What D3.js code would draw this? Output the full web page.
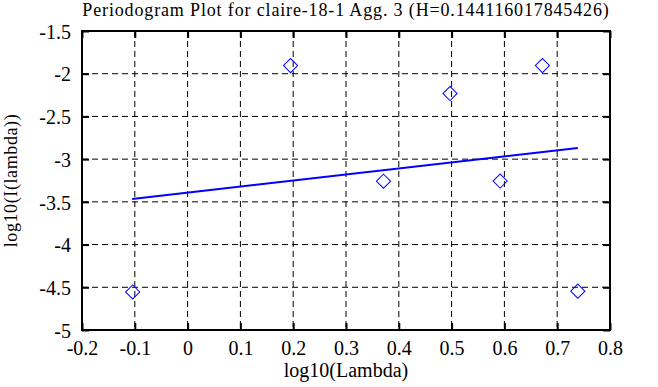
<!DOCTYPE html>
<html>
<head>
<meta charset="utf-8">
<script src="https://cdn.jsdelivr.net/npm/d3@7"></script>
<style>
  body { margin: 0; background: #fff; }
  text { font-family: "Liberation Serif", "Times New Roman", serif; }
</style>
</head>
<body>
<div id="chart-area"></div>
<script>
// data
const logLambda = [-0.104, 0.195, 0.371, 0.497, 0.592, 0.672, 0.739];
const logI = [-4.555, -1.905, -3.258, -2.232, -3.256, -1.905, -4.545];
const fitX = [-0.105, 0.739];
const fitY = [-3.466, -2.870];
const xTicks = [-0.2, -0.1, 0, 0.1, 0.2, 0.3, 0.4, 0.5, 0.6, 0.7, 0.8];
const yTicks = [-1.5, -2, -2.5, -3, -3.5, -4, -4.5, -5];
const title = "Periodogram Plot for claire-18-1 Agg. 3 (H=0.144116017845426)";

const margin = {top: 31, right: 48, bottom: 57, left: 82};
const width = 658 - margin.left - margin.right;
const height = 387 - margin.top - margin.bottom;

const svg = d3.select("#chart-area")
  .append("svg")
    .attr("width", 658)
    .attr("height", 387)
  .append("g")
    .attr("transform", `translate(${margin.left}, ${margin.top})`);

const x = d3.scaleLinear().domain([-0.2, 0.8]).range([0, width]);
const y = d3.scaleLinear().domain([-5, -1.5]).range([height, 0]);

// plain hyphen minus like the original, not the unicode minus
const fmt = d => String(d);

// dashed grid
svg.append("g")
  .selectAll("line")
  .data(xTicks.slice(1, -1))
  .join("line")
    .attr("x1", d => x(d)).attr("x2", d => x(d))
    .attr("y1", 0).attr("y2", height)
    .attr("stroke", "#000").attr("stroke-dasharray", "6,4");

svg.append("g")
  .selectAll("line")
  .data(yTicks.slice(1, -1))
  .join("line")
    .attr("y1", d => y(d)).attr("y2", d => y(d))
    .attr("x1", 0).attr("x2", width)
    .attr("stroke", "#000").attr("stroke-dasharray", "6,4");

// axes with inward ticks
const axBottom = svg.append("g")
  .attr("transform", `translate(0, ${height})`)
  .call(d3.axisBottom(x).tickValues(xTicks).tickFormat(fmt).tickSizeInner(-7).tickSizeOuter(0).tickPadding(11));
const axLeft = svg.append("g")
  .call(d3.axisLeft(y).tickValues(yTicks).tickFormat(fmt).tickSizeInner(-7).tickSizeOuter(0).tickPadding(11));
const axTop = svg.append("g")
  .call(d3.axisTop(x).tickValues(xTicks).tickFormat("").tickSizeInner(-7).tickSizeOuter(0));
const axRight = svg.append("g")
  .attr("transform", `translate(${width}, 0)`)
  .call(d3.axisRight(y).tickValues(yTicks).tickFormat("").tickSizeInner(-7).tickSizeOuter(0));

[axBottom, axLeft, axTop, axRight].forEach(a => {
  a.select(".domain").remove();
  a.selectAll(".tick line").attr("stroke", "#000").attr("stroke-width", 2);
  a.selectAll(".tick text")
    .attr("fill", "#000")
    .style("font-size", "20px")
    .style("font-family", '"Liberation Serif", serif');
});
axLeft.selectAll(".tick text").attr("dy", "0.36em");

// frame
svg.append("rect")
  .attr("x", 0).attr("y", 0)
  .attr("width", width).attr("height", height)
  .attr("fill", "none").attr("stroke", "#000").attr("stroke-width", 2);

// regression line
svg.append("path")
  .datum(fitX.map((d, i) => [d, fitY[i]]))
  .attr("fill", "none")
  .attr("stroke", "#0000ff")
  .attr("stroke-width", 2)
  .attr("d", d3.line().x(d => x(d[0])).y(d => y(d[1])));

// diamond markers
svg.append("g")
  .selectAll("path")
  .data(logLambda.map((d, i) => [d, logI[i]]))
  .join("path")
    .attr("transform", d => `translate(${x(d[0])}, ${y(d[1])}) rotate(45)`)
    .attr("d", "M-5,-5H5V5H-5Z")
    .attr("fill", "none")
    .attr("stroke", "#0000ff")
    .attr("stroke-width", 1);

// title and labels
svg.append("text")
  .attr("x", width / 2).attr("y", -15)
  .attr("text-anchor", "middle")
  .style("font-size", "18px")
  .style("letter-spacing", "0.85px")
  .text(title);

svg.append("text")
  .attr("x", width / 2).attr("y", height + 47)
  .attr("text-anchor", "middle")
  .style("font-size", "20px")
  .text("log10(Lambda)");

svg.append("text")
  .attr("transform", `translate(${-65}, ${height / 2}) rotate(-90)`)
  .attr("text-anchor", "middle")
  .style("font-size", "18px")
  .style("letter-spacing", "0.6px")
  .text("log10(I(lambda))");
</script>
</body>
</html>
